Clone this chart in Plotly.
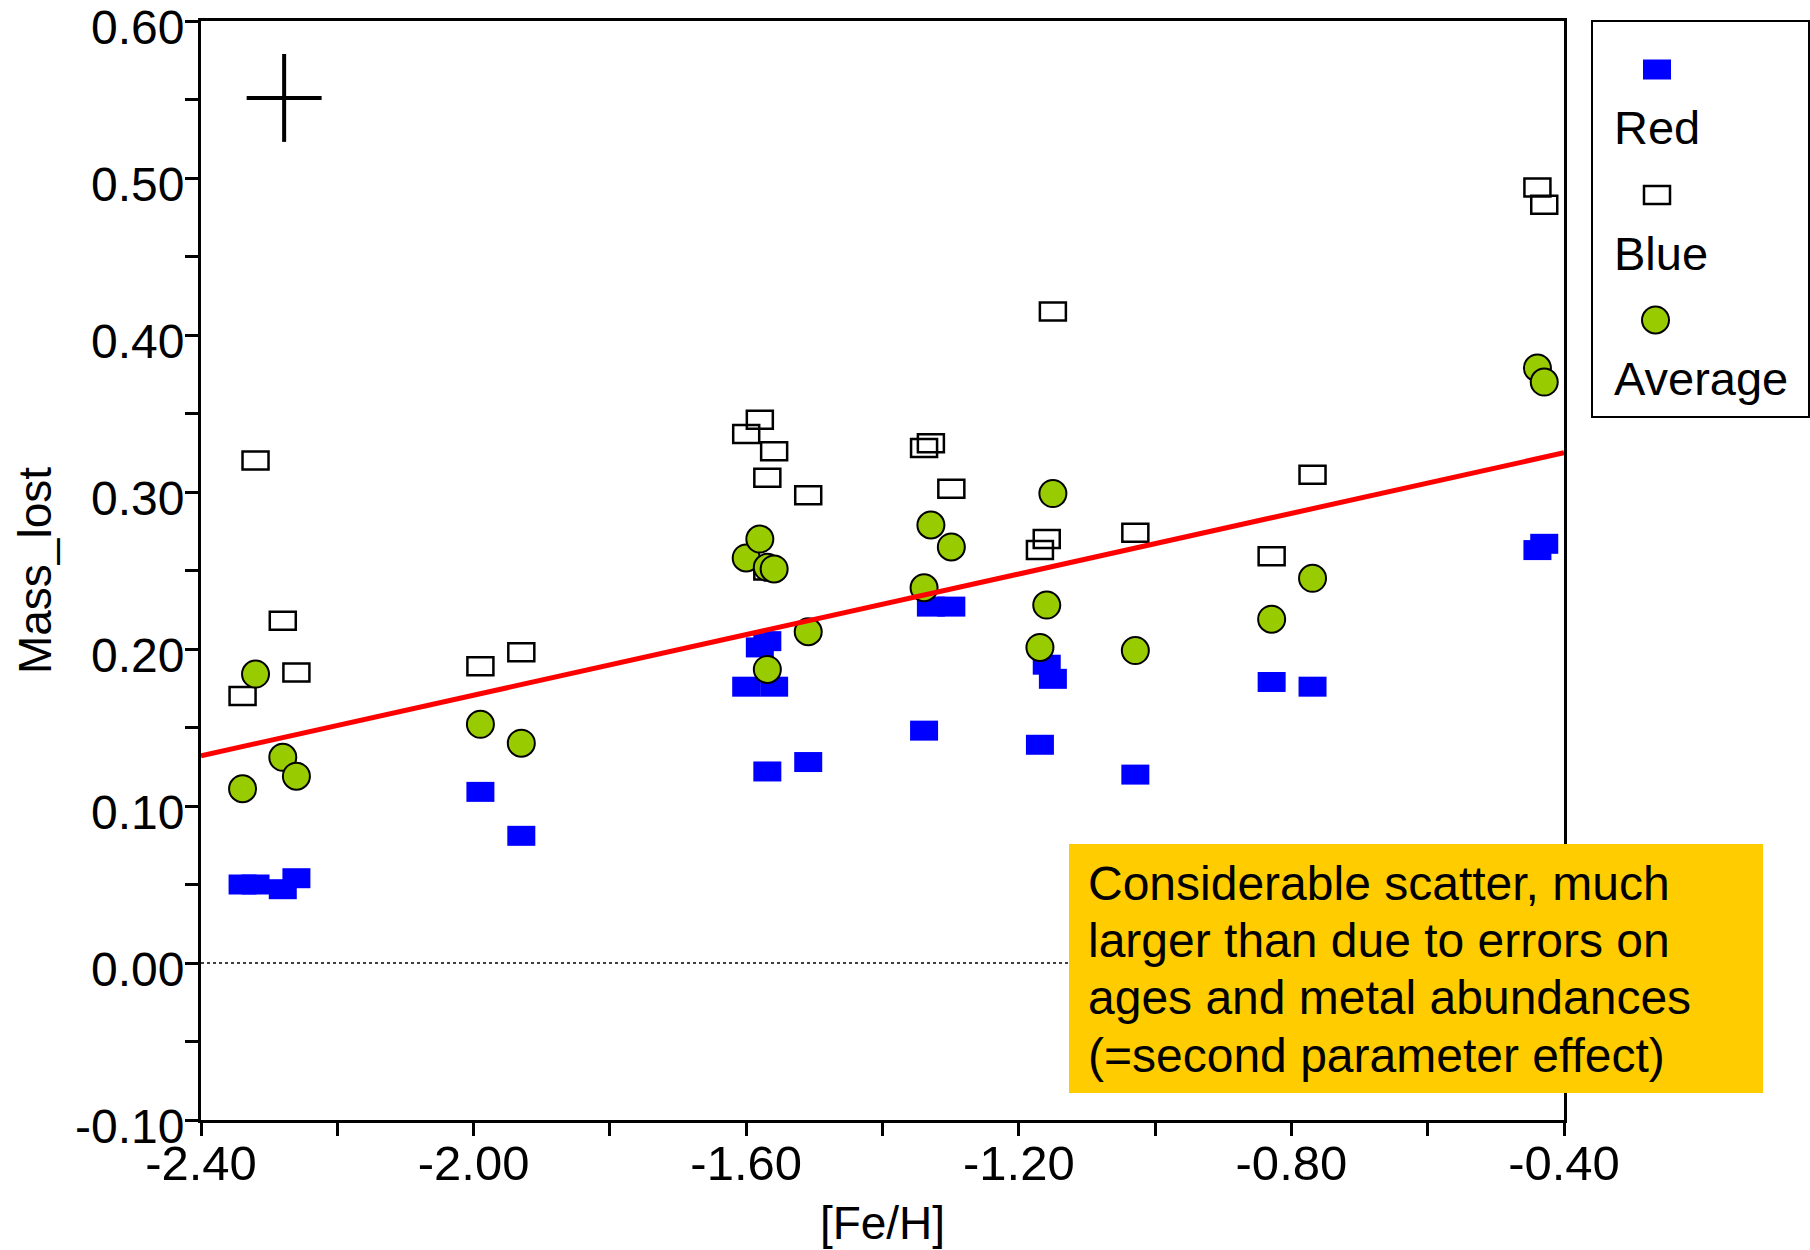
import plotly.graph_objects as go

# ---------------- data ----------------
feh = [-2.339, -2.320, -2.280, -2.260, -1.990, -1.930,
       -1.600, -1.580, -1.569, -1.569, -1.559, -1.509,
       -1.339, -1.329, -1.299, -1.169, -1.159, -1.150,
       -1.029, -0.829, -0.769, -0.439, -0.429]
mass_red = [0.050, 0.050, 0.047, 0.054, 0.109, 0.081,
            0.176, 0.201, 0.205, 0.122, 0.176, 0.128,
            0.148, 0.227, 0.227, 0.139, 0.190, 0.181,
            0.120, 0.179, 0.176, 0.263, 0.267]
mass_blue = [0.170, 0.320, 0.218, 0.185, 0.189, 0.198,
             0.337, 0.346, 0.309, 0.250, 0.326, 0.298,
             0.328, 0.331, 0.302, 0.263, 0.270, 0.415,
             0.274, 0.259, 0.311, 0.494, 0.483]
mass_avg = [0.111, 0.184, 0.131, 0.119, 0.152, 0.140,
            0.258, 0.270, 0.252, 0.187, 0.251, 0.211,
            0.239, 0.279, 0.265, 0.201, 0.228, 0.299,
            0.199, 0.219, 0.245, 0.379, 0.370]
fit_x = [-2.40, -0.40]
fit_y = [0.132, 0.325]
err_point_x = [-2.278]
err_point_y = [0.551]
err_x = [0.055]
err_y = [0.028]

x_tickvals = [-2.4, -2.0, -1.6, -1.2, -0.8, -0.4]
x_ticktext = ["-2.40", "-2.00", "-1.60", "-1.20", "-0.80", "-0.40"]
y_tickvals = [-0.1, 0.0, 0.1, 0.2, 0.3, 0.4, 0.5, 0.6]
y_ticktext = ["-0.10", "0.00", "0.10", "0.20", "0.30", "0.40", "0.50", "0.60"]

legend_labels = ["Red", "Blue", "Average"]
note_lines = ["Considerable scatter, much",
              "larger than due to errors on",
              "ages and metal abundances",
              "(=second parameter effect)"]
x_title = "[Fe/H]"
y_title = "Mass_lost"

# ---------------- layout geometry ----------------
W, H = 1810, 1250
L, R, T, B = 201, 1564, 21, 1120
FONT = "Liberation Sans, Arial, Helvetica, sans-serif"
BLUE = "#0000FF"
GREEN = "#99CC00"
YELLOW = "#FFCC00"


def px(x):
    return (x - L) / (R - L)


def py(y):
    return (B - y) / (B - T)


fig = go.Figure()

shapes = []
# Red: filled blue rectangles
for xv, yv in zip(feh, mass_red):
    shapes.append(dict(type="rect", xref="x", yref="y", xsizemode="pixel", ysizemode="pixel",
                       xanchor=xv, yanchor=yv, x0=-14, x1=14, y0=-10, y1=10,
                       fillcolor=BLUE, line=dict(width=0), layer="below"))
# Blue: open rectangles
for xv, yv in zip(feh, mass_blue):
    shapes.append(dict(type="rect", xref="x", yref="y", xsizemode="pixel", ysizemode="pixel",
                       xanchor=xv, yanchor=yv, x0=-13, x1=13, y0=-9, y1=9,
                       fillcolor="rgba(0,0,0,0)", line=dict(width=2.5, color="black"), layer="below"))

# zero dotted line
shapes.append(dict(type="line", xref="paper", yref="y", x0=0, x1=1, y0=0, y1=0,
                   line=dict(color="black", width=1.5, dash="3px,3px"), layer="below"))

# invisible traces carrying Red/Blue data (for hover)
fig.add_trace(go.Scatter(x=feh, y=mass_red, mode="markers", name="Red",
                         marker=dict(size=20, color=BLUE, opacity=0), showlegend=False))
fig.add_trace(go.Scatter(x=feh, y=mass_blue, mode="markers", name="Blue",
                         marker=dict(size=20, color="white", opacity=0), showlegend=False))
# Average: green circles
fig.add_trace(go.Scatter(x=feh, y=mass_avg, mode="markers", name="Average",
                         marker=dict(size=27, color=GREEN, line=dict(color="black", width=2)),
                         showlegend=False))
# regression line
fig.add_trace(go.Scatter(x=fit_x, y=fit_y, mode="lines", name="fit",
                         line=dict(color="#FF0000", width=5), showlegend=False))
# error cross
fig.add_trace(go.Scatter(x=err_point_x, y=err_point_y, mode="markers", name="errors",
                         marker=dict(size=1, color="black", opacity=0),
                         error_x=dict(type="data", array=err_x, visible=True, width=0,
                                      thickness=4, color="black"),
                         error_y=dict(type="data", array=err_y, visible=True, width=0,
                                      thickness=4, color="black"),
                         showlegend=False))

# ---------------- custom legend ----------------
shapes.append(dict(type="rect", xref="paper", yref="paper",
                   x0=px(1592), x1=px(1809), y0=py(417), y1=py(21),
                   fillcolor="white", line=dict(color="black", width=2), layer="above"))
shapes.append(dict(type="rect", xref="paper", yref="paper", xsizemode="pixel", ysizemode="pixel",
                   xanchor=px(1657), yanchor=py(69.5), x0=-14, x1=14, y0=-10, y1=10,
                   fillcolor=BLUE, line=dict(width=0), layer="above"))
shapes.append(dict(type="rect", xref="paper", yref="paper", xsizemode="pixel", ysizemode="pixel",
                   xanchor=px(1657), yanchor=py(195), x0=-13, x1=13, y0=-9, y1=9,
                   fillcolor="white", line=dict(width=2.5, color="black"), layer="above"))
shapes.append(dict(type="circle", xref="paper", yref="paper", xsizemode="pixel", ysizemode="pixel",
                   xanchor=px(1655.5), yanchor=py(320), x0=-13.5, x1=13.5, y0=-13.5, y1=13.5,
                   fillcolor=GREEN, line=dict(width=2, color="black"), layer="above"))

annotations = []
for lab, yc in zip(legend_labels, [127, 253, 378]):
    annotations.append(dict(text=lab, xref="paper", yref="paper", x=px(1612), y=py(yc),
                            xanchor="left", yanchor="middle", showarrow=False,
                            font=dict(family=FONT, size=47, color="black")))

# ---------------- note box ----------------
shapes.append(dict(type="rect", xref="paper", yref="paper",
                   x0=px(1069), x1=px(1763), y0=py(1093), y1=py(844),
                   fillcolor=YELLOW, line=dict(width=0), layer="above"))
for i, line in enumerate(note_lines):
    annotations.append(dict(text=line, xref="paper", yref="paper", x=px(1086),
                            y=py(883.5 + 57.2 * i), xanchor="left", yanchor="middle",
                            showarrow=False, font=dict(family=FONT, size=48, color="black")))

axis_common = dict(showline=True, linecolor="black", linewidth=3, mirror=True,
                   showgrid=False, zeroline=False, ticks="outside", ticklen=13,
                   tickwidth=2.5, tickcolor="black", tickmode="array", automargin=False,
                   ticklabeloverflow="allow")

fig.update_layout(
    width=W, height=H,
    margin=dict(l=L, r=W - R, t=T, b=H - B, pad=0),
    paper_bgcolor="white", plot_bgcolor="white",
    font=dict(family=FONT, color="black"),
    shapes=shapes, annotations=annotations,
    showlegend=False,
    xaxis=dict(range=[-2.4, -0.4], tickvals=x_tickvals, ticktext=x_ticktext,
               ticklabelstandoff=-15,
               tickfont=dict(family=FONT, size=49, color="black"),
               minor=dict(tick0=-2.4, dtick=0.2, ticks="outside", ticklen=13,
                          tickwidth=2.5, tickcolor="black"),
               title=dict(text=x_title, font=dict(family=FONT, size=46), standoff=19),
               **axis_common),
    yaxis=dict(range=[-0.1, 0.6], tickvals=y_tickvals, ticktext=y_ticktext,
               ticklabelstandoff=-9, ticklabelshift=6,
               tickfont=dict(family=FONT, size=48, color="black"),
               minor=dict(tick0=-0.1, dtick=0.05, ticks="outside", ticklen=13,
                          tickwidth=2.5, tickcolor="black"),
               title=dict(text=y_title, font=dict(family=FONT, size=46), standoff=9),
               **axis_common),
)

fig.write_html("out.html")
